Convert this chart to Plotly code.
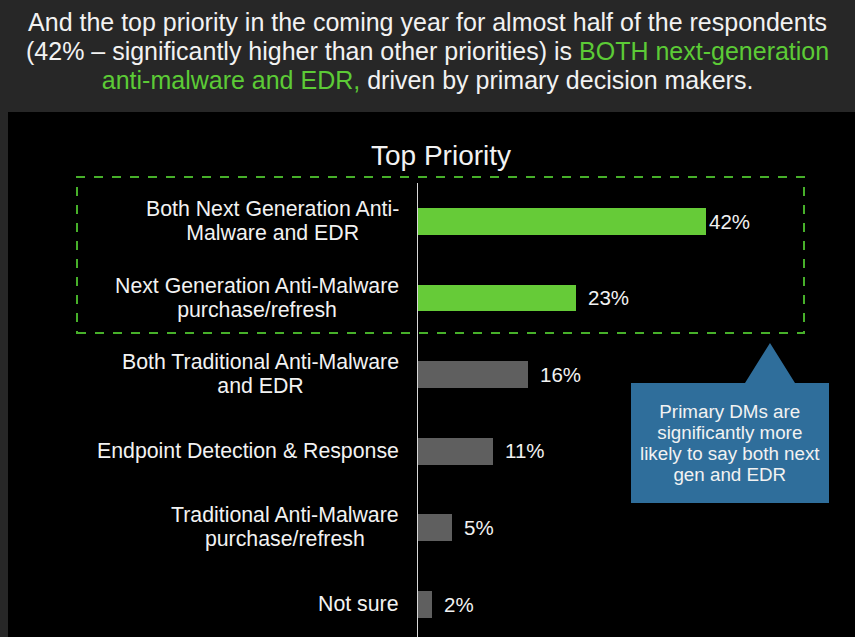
import plotly.graph_objects as go

# Survey results: top priority for the coming year
categories = [
    "Both Next Generation Anti-<br>Malware and EDR",
    "Next Generation Anti-Malware<br>purchase/refresh",
    "Both Traditional Anti-Malware<br>and EDR",
    "Endpoint Detection & Response",
    "Traditional Anti-Malware<br>purchase/refresh",
    "Not sure",
]
shares = [42, 23, 16, 11, 5, 2]
highlighted = [True, True, False, False, False, False]

# headline as (text, is_green) segments, one list per line
headline_lines = [
    [("And the top priority in the coming year for almost half of the respondents", False)],
    [("(42% – significantly higher than other priorities) is ", False), ("BOTH next-generation", True)],
    [("anti-malware and EDR,", True), (" driven by primary decision makers.", False)],
]
chart_title = "Top Priority"
callout_lines = ["Primary DMs are", "significantly more", "likely to say both next", "gen and EDR"]

W, H = 855, 637
FONT = "Liberation Sans, Arial, sans-serif"
GREEN = "#66cb38"
GREEN_TEXT = "#5ccb36"
GREY = "#5f5f5f"
WHITE = "#f2f2f2"


def px(x):
    return x / W


def py(y):
    return 1 - y / H


def span(text, size, color=None):
    style = f"font-size:{size}px"
    if color:
        style += f";color:{color}"
    return f"<span style='{style}'>{text}</span>"


def block(lines, size):
    # glyph size set per line; line spacing follows the annotation's base font size
    return "<br>".join(span(line, size) for line in lines)


fig = go.Figure()

fig.add_trace(go.Bar(
    x=shares,
    y=categories,
    orientation="h",
    width=0.35,
    marker=dict(color=[GREEN if h else GREY for h in highlighted], line=dict(width=0)),
    hoverinfo="skip",
))

annotations = []

# category labels, centred lines, right edge next to the axis
for cat in categories:
    annotations.append(dict(
        x=px(401), xref="paper", y=cat, yref="y",
        text=block(cat.split("<br>"), 21.3), showarrow=False,
        xanchor="right", yanchor="middle", align="center",
        font=dict(family=FONT, size=18.5, color=WHITE),
    ))

# value labels at the end of each bar
for i, (cat, v) in enumerate(zip(categories, shares)):
    annotations.append(dict(
        x=v, xref="x", y=cat, yref="y",
        text=f"{v}%", showarrow=False, xanchor="left",
        xshift=1 if i == 0 else 10,
        font=dict(family=FONT, size=20.5, color=WHITE),
    ))

headline = "<br>".join(
    "".join(span(t, 25, GREEN_TEXT if g else None) for t, g in line)
    for line in headline_lines
)
annotations.append(dict(
    x=0.5, xref="paper", y=py(51), yref="paper",
    text=headline, showarrow=False, xanchor="center", yanchor="middle", align="center",
    font=dict(family=FONT, size=22.3, color=WHITE),
))
annotations.append(dict(
    x=px(441), xref="paper", y=py(155), yref="paper",
    text=chart_title, showarrow=False, xanchor="center", yanchor="middle",
    font=dict(family=FONT, size=28, color=WHITE),
))
annotations.append(dict(
    x=px(730), xref="paper", y=py(443), yref="paper",
    text=block(callout_lines, 18.8), showarrow=False,
    xanchor="center", yanchor="middle", align="center",
    font=dict(family=FONT, size=16.2, color=WHITE),
))

pts = [(631, 383), (745, 383), (770, 343), (795, 383), (829, 383), (829, 503), (631, 503)]
callout_path = "M " + " L ".join(f"{px(a):.5f},{py(b):.5f}" for a, b in pts) + " Z"

shapes = [
    # black chart panel
    dict(type="rect", xref="paper", yref="paper", x0=px(8), x1=1, y0=0, y1=py(112),
         fillcolor="#000000", line=dict(width=0), layer="below"),
    # dashed highlight around the two green bars
    dict(type="rect", xref="paper", yref="paper", x0=px(77), x1=px(804), y0=py(333), y1=py(177),
         fillcolor="rgba(0,0,0,0)", line=dict(color="#47b02a", width=2, dash="dash")),
    # callout bubble
    dict(type="path", xref="paper", yref="paper", path=callout_path,
         fillcolor="#2f6e9b", line=dict(width=0)),
]

fig.update_layout(
    width=W, height=H,
    margin=dict(l=0, r=0, t=0, b=0),
    paper_bgcolor="#272727",
    plot_bgcolor="rgba(0,0,0,0)",
    showlegend=False,
    bargap=0,
    xaxis=dict(domain=[px(418), 1], range=[0, (W - 418) / 6.86],
               showgrid=False, zeroline=False, showticklabels=False, showline=False),
    yaxis=dict(domain=[0, py(182.7)], range=[5.43, -0.5],
               categoryorder="array", categoryarray=categories,
               showgrid=False, zeroline=False, showticklabels=False,
               showline=True, linecolor="#d8d8d8", linewidth=1, ticks=""),
    annotations=annotations,
    shapes=shapes,
)

fig.write_html("out.html")
